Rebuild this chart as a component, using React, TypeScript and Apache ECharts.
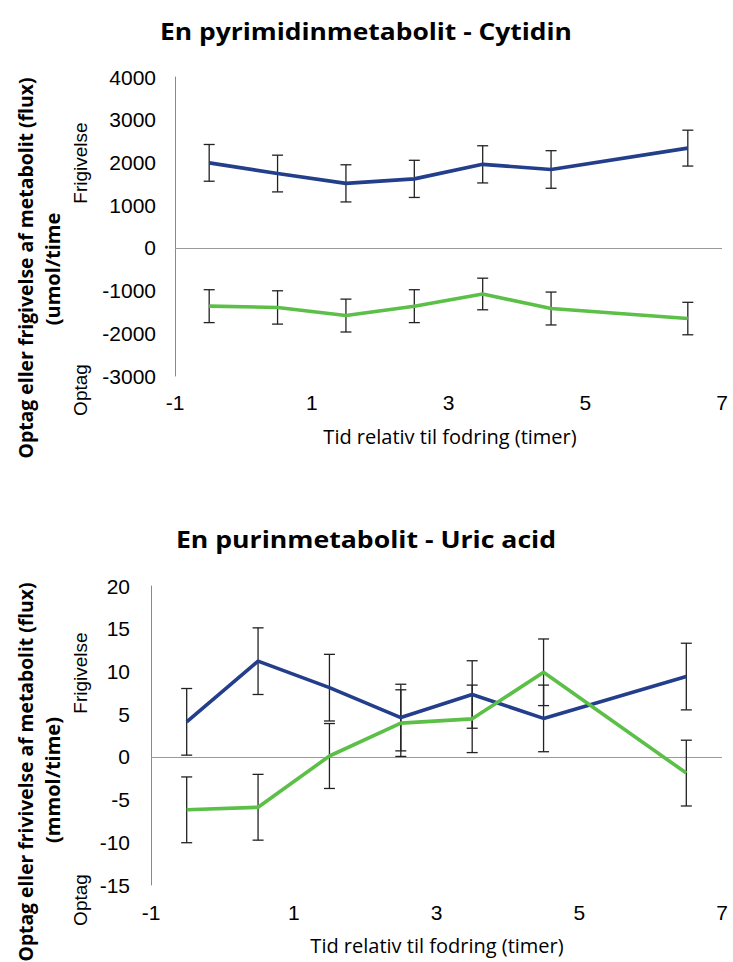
import React, { useEffect, useRef } from "react";
import * as echarts from "echarts";

const xs = [-0.5, 0.5, 1.5, 2.5, 3.5, 4.5, 6.5];
const xTickLabels = ["-1", "1", "3", "5", "7"];

const cytidinRelease = [1990, 1740, 1510, 1615, 1955, 1835, 2335];
const cytidinReleaseErr = [430, 430, 435, 435, 435, 440, 420];
const cytidinUptake = [-1365, -1395, -1585, -1365, -1080, -1420, -1655];
const cytidinUptakeErr = [385, 390, 385, 385, 370, 385, 380];

const uricRelease = [4.1, 11.2, 8.1, 4.6, 7.3, 4.5, 9.4];
const uricReleaseErr = [3.9, 3.9, 3.9, 3.9, 3.95, 3.9, 3.9];
const uricUptake = [-6.2, -5.9, 0.1, 3.95, 4.45, 9.9, -1.9];
const uricUptakeErr = [3.85, 3.85, 3.8, 3.9, 3.95, 3.9, 3.85];

const BLUE = "#233E8B";
const GREEN = "#5CBF47";
const SANS = "'Liberation Sans', Arial, sans-serif";
const CAL = "'Open Sans', sans-serif";

function pts(vals: number[]) {
  return xs.map((x, i) => [x, vals[i]]);
}
function errs(vals: number[], e: number[]) {
  return xs.map((x, i) => [x, vals[i] - e[i], vals[i] + e[i]]);
}

const renderErr = (params: any, api: any) => {
  const x = api.value(0);
  const lo = api.value(1);
  const hi = api.value(2);
  const top = api.coord([x, hi]);
  const bot = api.coord([x, lo]);
  const w = 5.5;
  const style = { stroke: "#222", lineWidth: 1.3 };
  return {
    type: "group",
    children: [
      { type: "line", shape: { x1: top[0], y1: top[1], x2: bot[0], y2: bot[1] }, style },
      { type: "line", shape: { x1: top[0] - w, y1: top[1], x2: top[0] + w, y2: top[1] }, style },
      { type: "line", shape: { x1: bot[0] - w, y1: bot[1], x2: bot[0] + w, y2: bot[1] }, style },
    ],
  };
};

function xAxisCfg(gridIndex: number, margin: number) {
  return {
    type: "value",
    gridIndex,
    min: -1,
    max: 7,
    interval: 1,
    axisLine: { show: false, onZero: false },
    axisTick: { show: false },
    splitLine: { show: false },
    axisLabel: {
      fontSize: 21,
      color: "#000",
      fontFamily: SANS,
      margin,
      showMinLabel: true,
      showMaxLabel: true,
      formatter: (v: number) => {
        const s = String(Math.round(v));
        return xTickLabels.includes(s) ? s : "";
      },
    },
  };
}

function yAxisCfg(gridIndex: number, min: number, max: number, interval: number, margin: number) {
  return {
    type: "value",
    gridIndex,
    min,
    max,
    interval,
    axisLine: { show: true, onZero: false, lineStyle: { color: "#8a8a8a", width: 1 } },
    axisTick: { show: false },
    splitLine: { show: false },
    axisLabel: {
      fontSize: 21,
      color: "#000",
      fontFamily: SANS,
      margin,
      formatter: (v: number) => String(v),
    },
  };
}

function lineSeries(idx: number, data: number[][], color: string, withZero: boolean) {
  const s: any = {
    type: "line",
    xAxisIndex: idx,
    yAxisIndex: idx,
    data,
    symbol: "none",
    showSymbol: false,
    lineStyle: { color, width: 3.6 },
    itemStyle: { color },
    z: 3,
  };
  if (withZero) {
    s.markLine = {
      silent: true,
      symbol: ["none", "none"],
      label: { show: false },
      lineStyle: { color: "#999", width: 1.2, type: "solid" },
      data: [{ yAxis: 0 }],
      z: 1,
    };
  }
  return s;
}

function errSeries(idx: number, data: number[][]) {
  return {
    type: "custom",
    xAxisIndex: idx,
    yAxisIndex: idx,
    data,
    encode: { x: 0, y: [1, 2] },
    renderItem: renderErr,
    z: 2,
  };
}

function txt(
  text: string,
  x: number,
  y: number,
  size: number,
  bold: boolean,
  family: string,
  rotated: boolean,
  sx = 1
) {
  return {
    type: "text",
    x,
    y,
    rotation: rotated ? Math.PI / 2 : 0,
    scaleX: sx,
    style: {
      text,
      fontSize: size,
      fontWeight: bold ? "bold" : "normal",
      fontFamily: family,
      fill: "#000",
      align: "center",
      verticalAlign: "middle",
    },
  };
}

export default function App() {
  const ref = useRef<HTMLDivElement>(null);
  useEffect(() => {
    if (!ref.current) return;
    const chart = echarts.init(ref.current, null, { renderer: "svg" });
    chart.setOption({
      animation: false,
      backgroundColor: "#fff",
      grid: [
        { left: 175, right: 11, top: 77, height: 299 },
        { left: 151, right: 11, top: 586, height: 299 },
      ],
      xAxis: [xAxisCfg(0, 16), xAxisCfg(1, 17)],
      yAxis: [yAxisCfg(0, -3000, 4000, 1000, 19), yAxisCfg(1, -15, 20, 5, 21)],
      series: [
        errSeries(0, errs(cytidinRelease, cytidinReleaseErr)),
        errSeries(0, errs(cytidinUptake, cytidinUptakeErr)),
        lineSeries(0, pts(cytidinRelease), BLUE, true),
        lineSeries(0, pts(cytidinUptake), GREEN, false),
        errSeries(1, errs(uricRelease, uricReleaseErr)),
        errSeries(1, errs(uricUptake, uricUptakeErr)),
        lineSeries(1, pts(uricRelease), BLUE, true),
        lineSeries(1, pts(uricUptake), GREEN, false),
      ],
      graphic: [
        txt("En pyrimidinmetabolit - Cytidin", 366, 30, 24, true, CAL, false, 1.1),
        txt("En purinmetabolit - Uric acid", 366, 539, 24, true, CAL, false, 1.11),
        txt("Tid relativ til fodring (timer)", 450, 436, 20, false, CAL, false),
        txt("Tid relativ til fodring (timer)", 437, 945, 20, false, CAL, false),
        txt("Optag eller frigivelse af metabolit (flux)", 25, 268, 19.4, true, CAL, true),
        txt("(umol/time", 52, 269, 20, true, CAL, true),
        txt("Frigivelse", 80, 163, 19, false, SANS, true),
        txt("Optag", 80, 390, 19, false, SANS, true),
        txt("Optag eller frivivelse af metabolit (flux)", 25, 772, 19.3, true, CAL, true),
        txt("(mmol/time)", 52, 780, 20, true, CAL, true),
        txt("Frigivelse", 80, 673, 19, false, SANS, true),
        txt("Optag", 80, 900, 19, false, SANS, true),
      ],
    });
    return () => chart.dispose();
  }, []);
  return (
    <div
      ref={ref}
      style={{ position: "fixed", left: 0, top: 0, width: 733, height: 962, background: "#fff" }}
    />
  );
}
